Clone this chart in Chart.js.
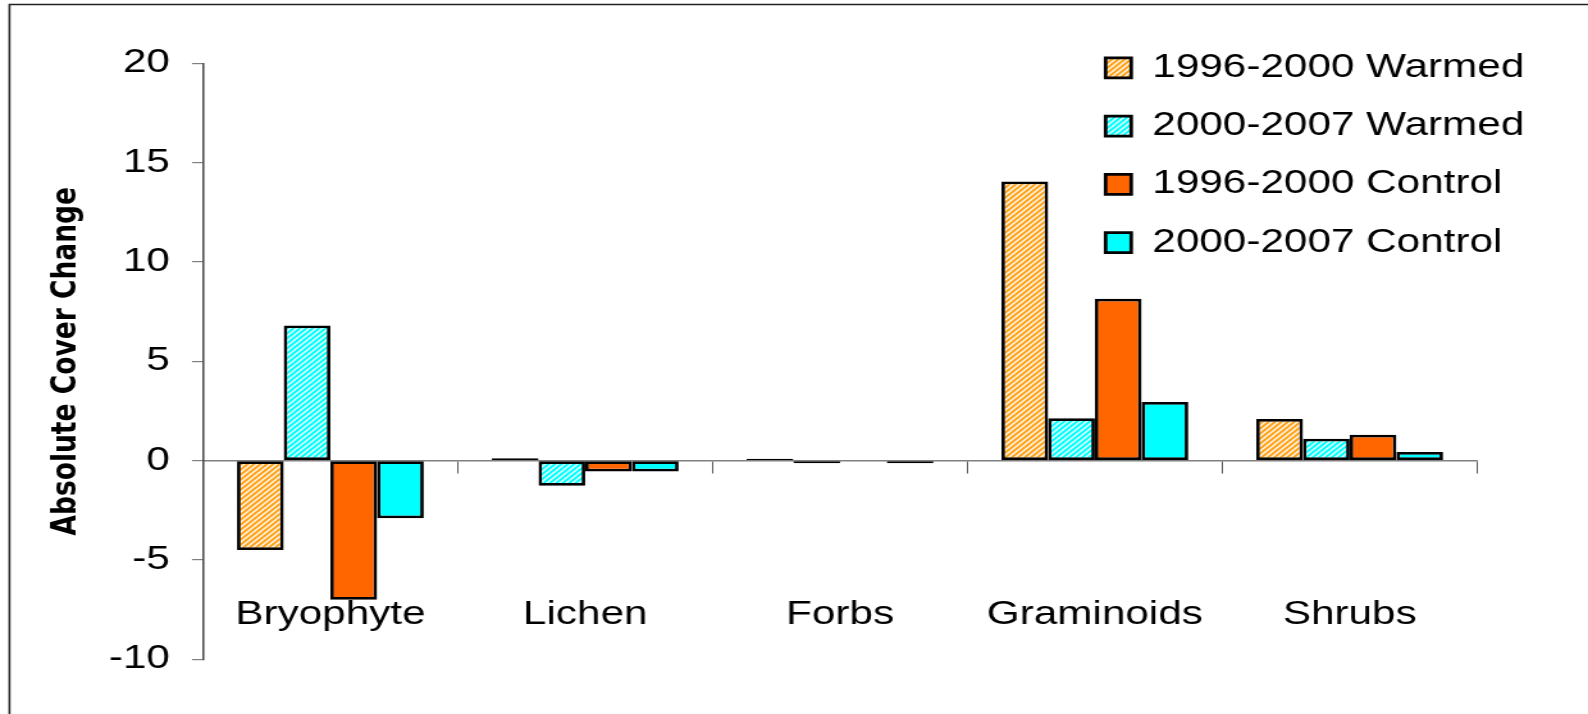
<!DOCTYPE html>
<html lang="en">

<head>
    <meta charset="UTF-8" />
    <title>Absolute Cover Change</title>
    <script src="https://cdn.jsdelivr.net/npm/chart.js"></script>
    <style>
        body {
            margin: 0;
            background: white;
        }

        canvas {
            display: block;
        }
    </style>
</head>

<body>
    <!-- drawn at 1240 wide and stretched to 1588, like the original picture -->
    <canvas id="coverChart" width="1240" height="714" style="width:1588px;height:714px"></canvas>

    <script>
        const categories = ['Bryophyte', 'Lichen', 'Forbs', 'Graminoids', 'Shrubs'];
        const seriesNames = ['1996-2000 Warmed', '2000-2007 Warmed', '1996-2000 Control', '2000-2007 Control'];
        const warmed9600 = [-4.5, 0.12, 0.1, 14.05, 2.1];
        const warmed0007 = [6.8, -1.27, -0.13, 2.13, 1.1];
        const control9600 = [-7.0, -0.55, 0, 8.15, 1.3];
        const control0007 = [-2.9, -0.55, -0.13, 2.95, 0.44];
        const yMin = -10;
        const yMax = 20;
        const yStep = 5;

        const canvas = document.getElementById('coverChart');
        const ctx = canvas.getContext('2d');

        // diagonal white stripes on a base colour
        function hatch(base) {
            const s = 5;
            const p = document.createElement('canvas');
            p.width = s;
            p.height = s;
            const c = p.getContext('2d');
            c.fillStyle = base;
            c.fillRect(0, 0, s, s);
            c.strokeStyle = 'white';
            c.lineWidth = 1.3;
            c.beginPath();
            c.moveTo(-1, s + 1); c.lineTo(s + 1, -1);
            c.moveTo(-1, 1); c.lineTo(1, -1);
            c.moveTo(s - 1, s + 1); c.lineTo(s + 1, s - 1);
            c.stroke();
            return ctx.createPattern(p, 'repeat');
        }

        const frame = {
            id: 'frame',
            beforeDraw(chart) {
                const c = chart.ctx;
                c.save();
                c.strokeStyle = '#222';
                c.lineWidth = 1.6;
                c.beginPath();
                c.moveTo(7.4, chart.height + 2);
                c.lineTo(7.4, 4.5);
                c.lineTo(chart.width + 2, 4.5);
                c.stroke();
                c.restore();
            }
        };

        // legend sits inside the plot, top right
        const moveLegend = {
            id: 'moveLegend',
            afterLayout(chart) {
                const lg = chart.legend;
                const left = 838, top = 26;
                lg.left = left;
                lg.right = left + lg.width;
                lg.top = top;
                lg.bottom = top + lg.height;
            }
        };

        Chart.defaults.font.family = "'Liberation Sans', Arial, sans-serif";
        Chart.defaults.color = '#000';

        const dsCommon = {
            borderColor: '#000',
            borderWidth: 2.8,
            borderSkipped: false,
            categoryPercentage: 0.733,
            barPercentage: 1
        };

        new Chart(ctx, {
            type: 'bar',
            data: {
                labels: categories,
                datasets: [
                    { label: seriesNames[0], data: warmed9600, backgroundColor: hatch('#FFA31A'), ...dsCommon },
                    { label: seriesNames[1], data: warmed0007, backgroundColor: hatch('#00FFFF'), ...dsCommon },
                    { label: seriesNames[2], data: control9600, backgroundColor: '#FF6600', ...dsCommon },
                    { label: seriesNames[3], data: control0007, backgroundColor: '#00FFFF', ...dsCommon }
                ]
            },
            options: {
                responsive: false,
                animation: false,
                devicePixelRatio: 1,
                layout: {
                    padding: { left: 30, top: 63.3, right: 86.6, bottom: 54.7 }
                },
                plugins: {
                    tooltip: { enabled: false },
                    legend: {
                        position: 'chartArea',
                        align: 'start',
                        labels: {
                            boxWidth: 20,
                            boxHeight: 20,
                            padding: 25.3,
                            font: { size: 33 }
                        }
                    }
                },
                scales: {
                    x: {
                        type: 'category',
                        position: { y: 0 },
                        offset: true,
                        grid: {
                            offset: true,
                            drawOnChartArea: false,
                            drawTicks: true,
                            tickLength: 12,
                            color: '#555',
                            lineWidth: 1
                        },
                        border: { display: true, color: '#808080', width: 1.5 },
                        ticks: {
                            font: { size: 33 },
                            padding: 122,
                            maxRotation: 0
                        }
                    },
                    y: {
                        min: yMin,
                        max: yMax,
                        afterFit(scale) {
                            scale.width = 158.5 - 30;
                        },
                        ticks: {
                            stepSize: yStep,
                            font: { size: 33 },
                            padding: 17.2
                        },
                        grid: {
                            drawOnChartArea: false,
                            drawTicks: true,
                            tickLength: 8.6,
                            color: '#808080',
                            lineWidth: 1.2
                        },
                        border: { display: true, color: '#444', width: 1.5 },
                        title: {
                            display: true,
                            text: 'Absolute Cover Change',
                            font: { family: "'DejaVu Sans', sans-serif", size: 26.5, weight: 'bold' },
                            padding: { top: 6, bottom: 0 }
                        }
                    }
                }
            },
            plugins: [frame, moveLegend]
        });
    </script>
</body>

</html>
